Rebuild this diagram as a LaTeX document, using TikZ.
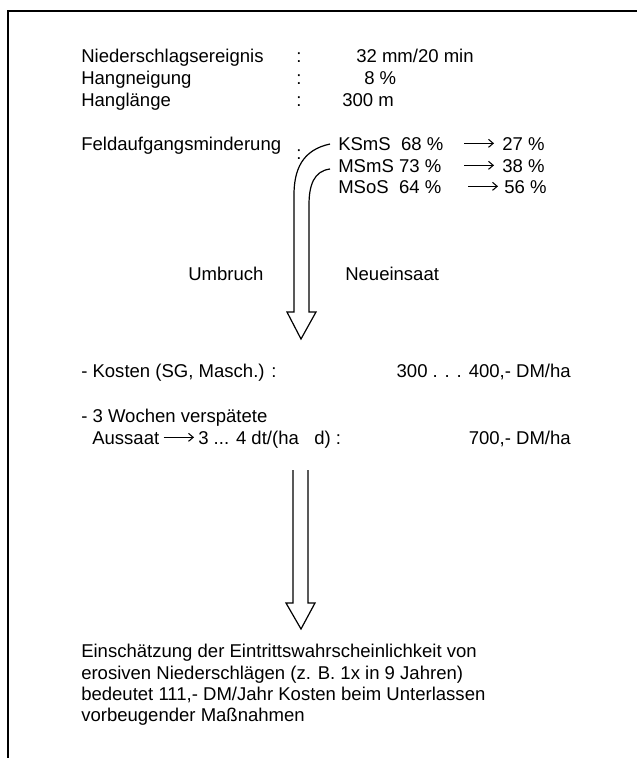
\documentclass[tikz,border=0pt]{standalone}
\usepackage{fontspec}
\setmainfont{Liberation Sans}
\usetikzlibrary{arrows.meta}
\begin{document}
\begin{tikzpicture}[x=0.75pt,y=-0.75pt]
    \tikzstyle{every node}+=[inner sep=0pt, font=\fontsize{13.9}{16.3}\selectfont]
    \tikzstyle{txt}=[anchor=base west]
    \tikzstyle{val}=[anchor=base east]
    \tikzstyle{hollow}=[black, line width=0.9pt, line join=miter]
    \tikzstyle{thin}=[black, line width=0.8pt, -{Straight Barb[length=3.5pt,width=6pt]}]
    \useasboundingbox (0,0) rectangle (637,758);
    \draw [black, line width=2.2pt] (8,758) -- (8,11) -- (637,11);
    % site data
    \node [txt] (regen) at (81,62) {Niederschlagsereignis};
    \node [txt] (neig) at (81,84) {Hangneigung};
    \node [txt] (laenge) at (81,106) {Hanglänge};
    \node [txt] (feld) at (81,150) {Feldaufgangsminderung};
    \node [txt] (c1) at (296,62) {:};
    \node [txt] (c2) at (296,84) {:};
    \node [txt] (c3) at (296,106) {:};
    \node [txt] (c4) at (296,159) {:};
    \node [txt] (regenv) at (356,62) {32 mm/20 min};
    \node [txt] (neigv) at (364,84) {8 \%};
    \node [txt] (laengev) at (342,106) {300 m};
    % soils
    \node [txt] (ksms) at (338,150) {KSmS\ \ 68 \%};
    \node [txt] (msms) at (338,172) {MSmS 73 \%};
    \node [txt] (msos) at (338,193) {MSoS\ \ 64 \%};
    \node [txt] (ksmsv) at (502,150) {27 \%};
    \node [txt] (msmsv) at (502,172) {38 \%};
    \node [txt] (msosv) at (504,193) {56 \%};
    \draw [thin] ([xshift=-28.5pt,yshift=5pt]ksmsv.base west) -- ([xshift=-6pt,yshift=5pt]ksmsv.base west);
    \draw [thin] ([xshift=-28.5pt,yshift=5pt]msmsv.base west) -- ([xshift=-6pt,yshift=5pt]msmsv.base west);
    \draw [thin] ([xshift=-27pt,yshift=5pt]msosv.base west) -- ([xshift=-4.5pt,yshift=5pt]msosv.base west);
    % first hollow arrow
    \coordinate (outA) at (330,144);
    \coordinate (inA) at (330,169);
    \coordinate (tipA) at (301,339);
    \draw [hollow] (outA) .. controls (302,150) and (294,170) .. (294,195) -- (294,312) -- (287,312)
        -- (tipA) -- (316,312) -- (309,312) -- (309,205) .. controls (309,185) and (314,171) .. (inA);
    \node [txt] (umbruch) at (188,280) {Umbruch};
    \node [txt] (neu) at (345,280) {Neueinsaat};
    % costs
    \node [txt] (kosten) at (81,377) {- Kosten (SG, Masch.) :};
    \node [val] (kostenv) at (571,377) {300 . . . 400,- DM/ha};
    \node [txt] (wochen) at (81,422) {- 3 Wochen verspätete};
    \node [txt] (aussaat) at (92,444) {Aussaat};
    \node [txt] (dtha) at (198,444) {3 ... 4 dt/(ha\ \ \ d) :};
    \node [val] (aussaatv) at (571,444) {700,- DM/ha};
    \draw [thin] ([xshift=3pt,yshift=5pt]aussaat.base east) -- ([xshift=-3pt,yshift=5pt]dtha.base west);
    % second hollow arrow
    \coordinate (outB) at (293,470);
    \coordinate (inB) at (308,470);
    \coordinate (tipB) at (301,629);
    \draw [hollow] (outB) -- (293,603) -- (286,603) -- (tipB) -- (315,603) -- (308,603) -- (inB);
    % result
    \node [txt] (e1) at (81,657) {Einschätzung der Eintrittswahrscheinlichkeit von};
    \node [txt] (e2) at (81,679) {erosiven Niederschlägen (z. B. 1x in 9 Jahren)};
    \node [txt] (e3) at (81,700) {bedeutet 111,- DM/Jahr Kosten beim Unterlassen};
    \node [txt] (e4) at (81,721) {vorbeugender Maßnahmen};
\end{tikzpicture}
\end{document}
